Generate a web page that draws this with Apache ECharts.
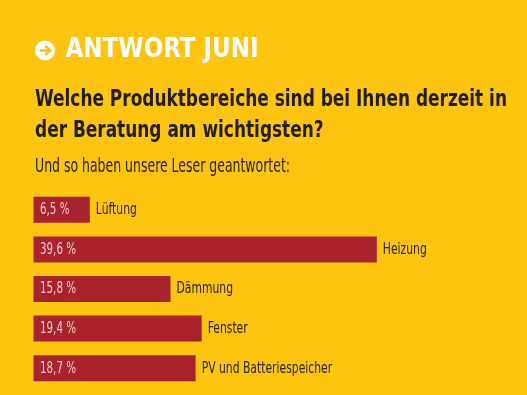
<!DOCTYPE html>
<html><head><meta charset="utf-8">
<script src="https://cdn.jsdelivr.net/npm/echarts@6/dist/echarts.min.js"></script>
<style>html,body{margin:0;padding:0;background:#FDC412;}#c{width:527px;height:395px;}</style>
</head><body><div id="c"></div>
<script>
const categories = ["Lüftung", "Heizung", "Dämmung", "Fenster", "PV und Batteriespeicher"];
const values = [6.5, 39.6, 15.8, 19.4, 18.7];
const headerText = "ANTWORT JUNI";
const questionLines = ["Welche Produktbereiche sind bei Ihnen derzeit in", "der Beratung am wichtigsten?"];
const subText = "Und so haben unsere Leser geantwortet:";

const FAM = '"DejaVu Sans Condensed", "DejaVu Sans", sans-serif';
const ctx = document.createElement('canvas').getContext('2d');
function fit(text, font, target) { ctx.font = font; return target / ctx.measureText(text).width; }
const fmt = v => String(v).replace('.', ',') + ' %';

const fHead = 'bold 26px ' + FAM;
const fQ = 'bold 23px ' + FAM;
const fSub = '19px ' + FAM;
const fCat = '15px ' + FAM;
const fVal = '15px ' + FAM;
const sHead = fit(headerText, fHead, 193);
const sQ = fit(questionLines[0], fQ, 472);
const sSub = fit(subText, fSub, 255);
const sCat = fit("Heizung", fCat, 44);
const sVal = fit("39,6 %", fVal, 36);

const chart = echarts.init(document.getElementById('c'));
chart.setOption({
  backgroundColor: '#FDC412',
  animation: false,
  grid: {left: 33.5, right: 60, top: 190, bottom: 7},
  xAxis: {type: 'value', min: 0, max: 50, show: false},
  yAxis: {type: 'category', data: categories, inverse: true, show: false},
  graphic: [
    {type: 'circle', shape: {cx: 45, cy: 50.5, r: 10}, style: {fill: '#ffffff'}},
    {type: 'polyline', shape: {points: [[39.5, 50.5], [50, 50.5]]}, style: {stroke: '#FDC412', lineWidth: 2.6, fill: null}},
    {type: 'polyline', shape: {points: [[45.5, 46], [50.2, 50.5], [45.5, 55]]}, style: {stroke: '#FDC412', lineWidth: 2.6, fill: null}},
    {type: 'text', x: 65.5, y: 50, scaleX: sHead, style: {text: headerText, fill: '#ffffff', font: fHead, verticalAlign: 'middle'}},
    {type: 'text', x: 35, y: 100.5, scaleX: sQ, style: {text: questionLines[0], fill: '#231f20', font: fQ, verticalAlign: 'middle'}},
    {type: 'text', x: 35, y: 131.5, scaleX: sQ, style: {text: questionLines[1], fill: '#231f20', font: fQ, verticalAlign: 'middle'}},
    {type: 'text', x: 35, y: 167, scaleX: sSub, style: {text: subText, fill: '#2b2520', font: fSub, verticalAlign: 'middle'}}
  ],
  series: [
    {
      type: 'bar', data: values, barWidth: 26, z: 1,
      itemStyle: {color: '#A8232C'}
    },
    {
      type: 'custom', z: 10,
      data: values.map((v, i) => [v, i]),
      encode: {x: 0, y: 1},
      renderItem: function (params, api) {
        const i = api.value(1);
        const v = api.value(0);
        const end = api.coord([v, i]);
        const start = api.coord([0, i]);
        return {type: 'group', children: [
          {type: 'text', x: start[0] + 6.5, y: start[1] + 0.5, scaleX: sVal, z2: 10,
            style: {text: fmt(v), fill: '#f3cdd0', font: fVal, verticalAlign: 'middle'}},
          {type: 'text', x: end[0] + 6, y: end[1] + 0.5, scaleX: sCat, z2: 10,
            style: {text: categories[i], fill: '#2b2520', font: fCat, verticalAlign: 'middle'}}
        ]};
      }
    }
  ]
});
</script></body></html>
